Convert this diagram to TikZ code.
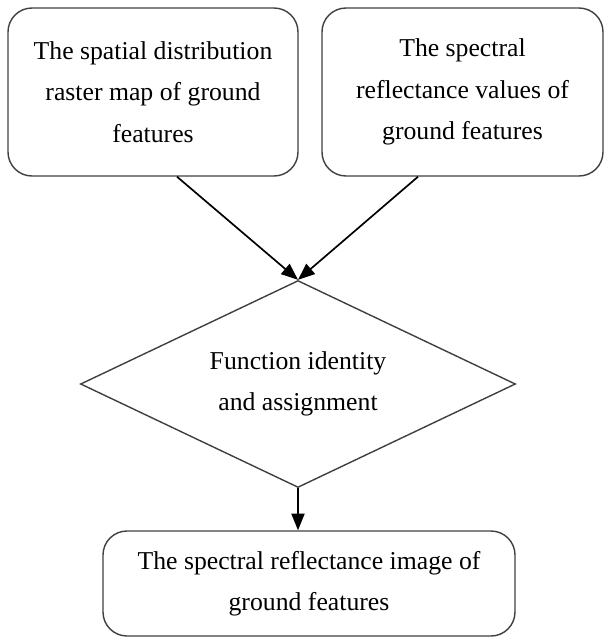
\documentclass[tikz,border=0pt]{standalone}
\usepackage{fontspec}
\setmainfont{Liberation Serif}
\usetikzlibrary{shapes.geometric,arrows.meta}
\begin{document}
\begin{tikzpicture}[
    roundbox/.style={draw=black!75,line width=1pt,rounded corners=0.6cm,align=center,inner sep=0pt},
    flowarrow/.style={line width=1.2pt,-{Triangle[length=0.42cm,width=0.33cm]}},
    font=\fontsize{18.3}{29.5}\selectfont]
    \useasboundingbox (0,0) rectangle (15.15,-15.925);
    % inputs
    \node[roundbox,minimum width=7.25cm,minimum height=4.2cm] (raster) at (3.825,-2.3){The spatial distribution\\raster map of ground\\features};
    \node[roundbox,minimum width=7.025cm,minimum height=4.2cm] (spectral) at (11.5625,-2.3){The spectral\\reflectance values of\\ground features};
    % decision
    \node[draw=black!75,line width=1pt,diamond,aspect=2.1,minimum width=10.875cm,minimum height=5.175cm,inner sep=0pt,align=center] (assign) at (7.45,-9.6){Function identity\\and assignment};
    % output
    \node[roundbox,minimum width=10.3cm,minimum height=2.625cm] (image) at (7.725,-14.5875){The spectral reflectance image of\\ground features};
    \draw[flowarrow]([xshift=0.6cm]raster.south)--(assign.north);
    \draw[flowarrow]([xshift=-1.1125cm]spectral.south)--(assign.north);
    \draw[flowarrow](assign.south)--(assign.south |- image.north);
\end{tikzpicture}
\end{document}
